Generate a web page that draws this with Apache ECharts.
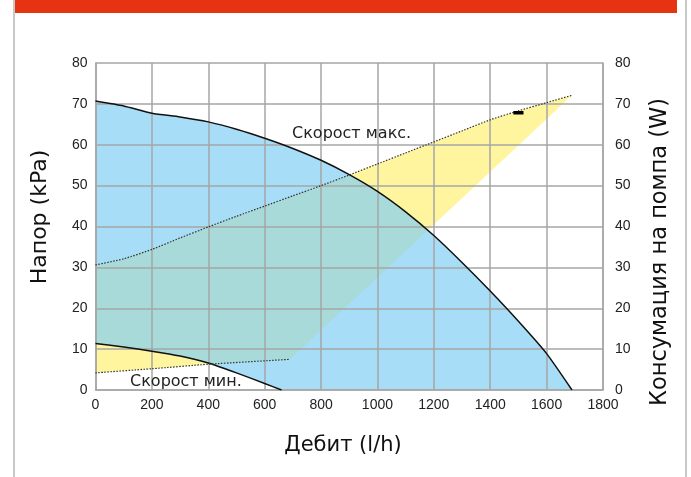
<!DOCTYPE html>
<html>
<head>
<meta charset="utf-8">
<script src="https://cdn.jsdelivr.net/npm/echarts@6/dist/echarts.min.js"></script>
<style>
  html, body { margin: 0; padding: 0; background: #fff; }
  #chart { width: 691px; height: 477px; }
</style>
</head>
<body>
<div id="chart"></div>
<script>
// Head curve at maximum speed: flow (l/h) -> head (kPa)
const maxHeadFlow = [0, 100, 200, 300, 400, 500, 600, 700, 800, 900, 1000, 1100, 1200, 1300, 1400, 1500, 1600, 1690];
const maxHeadKPa  = [70.7, 69.5, 67.7, 66.8, 65.6, 63.8, 61.6, 59.1, 56.2, 52.7, 48.6, 43.6, 37.8, 31.2, 24.2, 16.8, 8.9, 0];

// Head curve at minimum speed
const minHeadFlow = [0, 100, 200, 300, 400, 500, 600, 660];
const minHeadKPa  = [11.4, 10.5, 9.5, 8.3, 6.6, 4.2, 1.6, 0];

// Power consumption at maximum speed: flow (l/h) -> W
const maxPowerFlow = [0, 100, 200, 300, 400, 500, 600, 700, 800, 900, 1000, 1100, 1200, 1300, 1400, 1500, 1600, 1690];
const maxPowerW    = [30.6, 32.1, 34.4, 37.2, 39.9, 42.5, 45.0, 47.5, 50.0, 52.6, 55.3, 58.0, 60.7, 63.4, 66.1, 68.3, 70.3, 72.1];

// Power consumption at minimum speed
const minPowerFlow = [0, 200, 400, 690];
const minPowerW    = [4.2, 5.2, 6.3, 7.5];

// Short marker on the max-power curve
const markerFlow = [1482, 1518];
const markerW    = [67.8, 67.8];

// Axis ticks
const flowTicks = { min: 0, max: 1800, interval: 200 };
const headTicks = { min: 0, max: 80, interval: 10 };
const powerTicks = { min: 0, max: 80, interval: 10 };

const zip = (xs, ys) => xs.map((x, i) => [x, ys[i]]);

const maxHead = zip(maxHeadFlow, maxHeadKPa);
const minHead = zip(minHeadFlow, minHeadKPa);
const maxPower = zip(maxPowerFlow, maxPowerW);
const minPower = zip(minPowerFlow, minPowerW);

// Operating envelopes as closed outlines
const headEnvelope = maxHead.concat(minHead.slice().reverse());
const powerEnvelope = maxPower.concat(minPower.slice().reverse());

function envelopeSeries(points, yAxisIndex, fill, z) {
  return {
    type: 'custom',
    coordinateSystem: 'cartesian2d',
    xAxisIndex: 0,
    yAxisIndex,
    silent: true,
    z,
    data: [[0, 0]],
    renderItem: (params, api) => ({
      type: 'polygon',
      shape: { points: points.map(p => api.coord(p)) },
      style: { fill }
    })
  };
}

function curveSeries(data, yAxisIndex, style, z) {
  return {
    type: 'line',
    xAxisIndex: 0,
    yAxisIndex,
    data,
    smooth: 0.2,
    symbol: 'none',
    silent: true,
    z,
    lineStyle: style
  };
}

const plain = v => String(v);
const tickFont = { fontFamily: 'Liberation Sans', fontSize: 14, color: '#222', formatter: plain };
const gridLine = { show: true, lineStyle: { color: '#a6a6a6', width: 1.5 } };
const axisLine = { show: true, lineStyle: { color: '#a6a6a6', width: 1.5 } };
const titleFont = 'DejaVu Sans';

const chart = echarts.init(document.getElementById('chart'), null, { renderer: 'canvas' });

chart.setOption({
  animation: false,
  backgroundColor: '#fff',
  grid: { left: 95.5, right: 88, top: 63, bottom: 87, containLabel: false },
  xAxis: {
    type: 'value',
    min: flowTicks.min, max: flowTicks.max, interval: flowTicks.interval,
    z: 3,
    axisLine, axisTick: { show: false }, splitLine: gridLine,
    axisLabel: Object.assign({ margin: 8 }, tickFont)
  },
  yAxis: [
    {
      type: 'value', position: 'left',
      min: headTicks.min, max: headTicks.max, interval: headTicks.interval,
      z: 3,
      axisLine, axisTick: { show: false }, splitLine: gridLine,
      axisLabel: Object.assign({ margin: 8 }, tickFont)
    },
    {
      type: 'value', position: 'right',
      min: powerTicks.min, max: powerTicks.max, interval: powerTicks.interval,
      z: 3,
      axisLine, axisTick: { show: false }, splitLine: { show: false },
      axisLabel: Object.assign({ margin: 12 }, tickFont)
    }
  ],
  series: [
    envelopeSeries(powerEnvelope, 1, '#fff59e', 1),
    envelopeSeries(headEnvelope, 0, 'rgba(129,206,242,0.7)', 2),
    curveSeries(maxHead, 0, { color: '#111', width: 1.5 }, 5),
    curveSeries(minHead, 0, { color: '#111', width: 1.5 }, 5),
    curveSeries(maxPower, 1, { color: '#333', width: 1.2, type: [1.5, 1.5] }, 5),
    curveSeries(minPower, 1, { color: '#333', width: 1.2, type: [1.5, 1.5] }, 5),
    {
      type: 'line', xAxisIndex: 0, yAxisIndex: 1,
      data: zip(markerFlow, markerW),
      symbol: 'none', silent: true, z: 6,
      lineStyle: { color: '#000', width: 3.5 }
    }
  ],
  graphic: [
    // frame
    { type: 'rect', shape: { x: 15, y: 0, width: 662, height: 13 }, style: { fill: '#e63312' }, z: 10 },
    { type: 'rect', shape: { x: 13, y: 0, width: 2, height: 477 }, style: { fill: '#c8c8c8' }, z: 10 },
    { type: 'rect', shape: { x: 685, y: 0, width: 2, height: 477 }, style: { fill: '#c8c8c8' }, z: 10 },
    // axis titles
    {
      type: 'text', x: 40, y: 217, rotation: Math.PI / 2, z: 10,
      style: { text: 'Напор (kPa)', fontFamily: titleFont, fontSize: 22, fill: '#111', align: 'center', verticalAlign: 'middle' }
    },
    {
      type: 'text', x: 660, y: 252, rotation: Math.PI / 2, z: 10,
      style: { text: 'Консумация на помпа (W)', fontFamily: titleFont, fontSize: 22.5, fill: '#111', align: 'center', verticalAlign: 'middle' }
    },
    {
      type: 'text', x: 343, y: 446, z: 10,
      style: { text: 'Дебит (l/h)', fontFamily: titleFont, fontSize: 21, fill: '#111', align: 'center', verticalAlign: 'middle' }
    },
    // curve captions
    {
      type: 'text', x: 292, y: 134, z: 10,
      style: { text: 'Скорост макс.', fontFamily: titleFont, fontSize: 16, fill: '#222', align: 'left', verticalAlign: 'middle' }
    },
    {
      type: 'text', x: 130, y: 382, z: 10,
      style: { text: 'Скорост мин.', fontFamily: titleFont, fontSize: 16, fill: '#222', align: 'left', verticalAlign: 'middle' }
    }
  ]
});
</script>
</body>
</html>
